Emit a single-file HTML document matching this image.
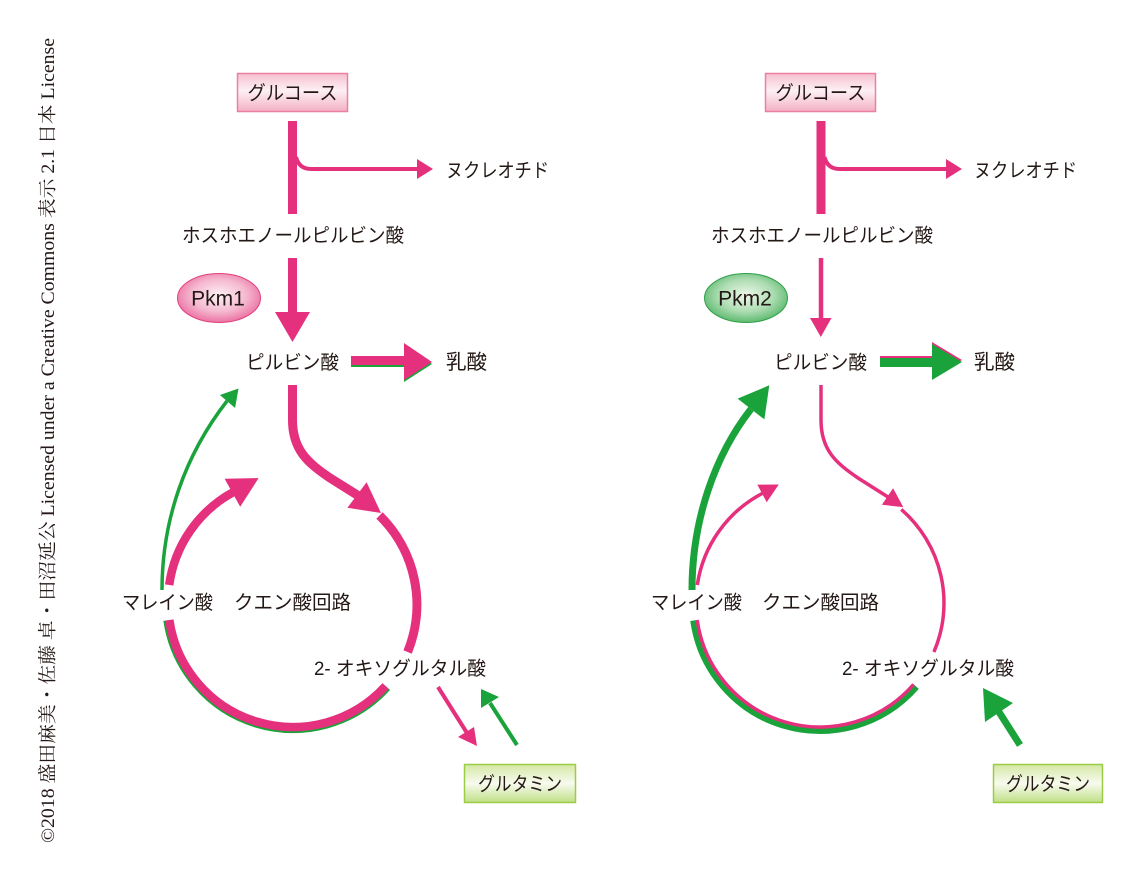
<!DOCTYPE html>
<html><head><meta charset="utf-8">
<style>
html,body{margin:0;padding:0;background:#fff;}
svg{display:block;}
.t{font-family:"Liberation Sans","Noto Sans CJK JP",sans-serif;font-size:19.5px;fill:#231815;}
.v{font-family:"Liberation Serif","Noto Serif CJK SC",serif;font-size:18.5px;fill:#231815;}
</style></head>
<body>
<svg width="1140" height="876" viewBox="0 0 1140 876" xmlns="http://www.w3.org/2000/svg">
<defs>
<linearGradient id="gpink" x1="0" y1="0" x2="0" y2="1">
<stop offset="0" stop-color="#f6bfd0"/><stop offset="0.45" stop-color="#fdf0f4"/><stop offset="1" stop-color="#f4b0c5"/>
</linearGradient>
<linearGradient id="ggreen" x1="0" y1="0" x2="0" y2="1">
<stop offset="0" stop-color="#d3e8a4"/><stop offset="0.5" stop-color="#f8fbef"/><stop offset="1" stop-color="#bfdf86"/>
</linearGradient>
<radialGradient id="rpink" cx="0.5" cy="0.45" r="0.6">
<stop offset="0" stop-color="#fdf2f6"/><stop offset="0.55" stop-color="#f5b8cf"/><stop offset="1" stop-color="#e8629a"/>
</radialGradient>
<radialGradient id="rgreen" cx="0.5" cy="0.45" r="0.6">
<stop offset="0" stop-color="#eff8ec"/><stop offset="0.55" stop-color="#acdcb1"/><stop offset="1" stop-color="#4db262"/>
</radialGradient>
</defs>

<!-- vertical copyright -->
<text class="v" transform="translate(54,843) rotate(-90)" x="0" y="0" textLength="805" lengthAdjust="spacingAndGlyphs">©2018 盛田麻美・佐藤 卓・田沼延公 Licensed under a Creative Commons 表示 2.1 日本 License</text>

<!-- ================= LEFT PANEL ================= -->
<rect x="237.5" y="73.5" width="110" height="38" fill="url(#gpink)" stroke="#ec80a3" stroke-width="1.5"/>
<text class="t" x="292.5" y="99.5" text-anchor="middle" textLength="90" lengthAdjust="spacingAndGlyphs">グルコース</text>

<rect x="288" y="121" width="9" height="93" fill="#e5307d"/>
<path d="M296,157 Q299,169 311,169 L419,169" fill="none" stroke="#e5307d" stroke-width="4"/>
<polygon points="417,159 433,169 417,179" fill="#e5307d"/>
<text class="t" x="446" y="177" textLength="103" lengthAdjust="spacingAndGlyphs">ヌクレオチド</text>

<text class="t" x="182" y="242" textLength="222" lengthAdjust="spacingAndGlyphs">ホスホエノールピルビン酸</text>

<rect x="288" y="258" width="9" height="56" fill="#e5307d"/>
<polygon points="275,312 310,312 292.5,342" fill="#e5307d"/>

<ellipse cx="219" cy="298" rx="41.5" ry="24.5" fill="url(#rpink)" stroke="#e2407c" stroke-width="1"/>
<text x="218" y="305.5" text-anchor="middle" style="font-family:'Liberation Sans',sans-serif;font-size:21px;fill:#231815;">Pkm1</text>

<text class="t" x="246" y="369" textLength="93" lengthAdjust="spacingAndGlyphs">ピルビン酸</text>

<!-- pyruvate -> lactate (left) -->
<rect x="351" y="358" width="55" height="9" fill="#1aa33b"/>
<polygon points="404,345 404,382 432,364" fill="#1aa33b"/>
<rect x="351" y="356" width="55" height="9" fill="#e5307d"/>
<polygon points="404,343 404,380 432,362" fill="#e5307d"/>
<text class="t" x="446" y="369" style="font-size:20.5px">乳酸</text>

<!-- TCA left -->
<path d="M292.5,385 L292.5,420 C292.5,450 308,463 330,478 L358,495.5" fill="none" stroke="#e5307d" stroke-width="9"/>
<polygon points="347.4,507.8 366.6,482.2 381,513" fill="#e5307d"/>
<path d="M379.5,515.5 A125,125 0 0,1 407.6,652" fill="none" stroke="#e5307d" stroke-width="9"/>

<path d="M387.8,688 A128,128 0 0,1 166.3,620.5" fill="none" stroke="#1aa33b" stroke-width="6"/>
<path d="M385.6,686 A125,125 0 0,1 169.3,620" fill="none" stroke="#e5307d" stroke-width="8.5"/>

<path d="M162,590 C162,520 185,455 227,401" fill="none" stroke="#1aa33b" stroke-width="3.5"/>
<polygon points="235.1,408 219.9,395 238.5,388.5" fill="#1aa33b"/>

<path d="M169.2,585 A125,125 0 0,1 233.5,492" fill="none" stroke="#e5307d" stroke-width="8.5"/>
<polygon points="240.2,506.7 224.6,478.7 258.6,478.1" fill="#e5307d"/>

<text class="t" x="122" y="609" textLength="91" lengthAdjust="spacingAndGlyphs">マレイン酸</text>
<text class="t" x="234" y="609" textLength="117" lengthAdjust="spacingAndGlyphs">クエン酸回路</text>
<text class="t" x="314" y="675" textLength="172" lengthAdjust="spacingAndGlyphs">2- オキソグルタル酸</text>

<path d="M438,687 L467,733" fill="none" stroke="#e5307d" stroke-width="4"/>
<polygon points="458,737 474,727 477,746" fill="#e5307d"/>
<path d="M517,745 L490,703" fill="none" stroke="#1aa33b" stroke-width="4"/>
<polygon points="481,708 499,697 481,689" fill="#1aa33b"/>

<rect x="464.5" y="764.5" width="111" height="38" fill="url(#ggreen)" stroke="#9ccc45" stroke-width="1.5"/>
<text class="t" x="520" y="790.5" text-anchor="middle" textLength="84" lengthAdjust="spacingAndGlyphs">グルタミン</text>

<!-- ================= RIGHT PANEL ================= -->
<rect x="765.5" y="73.5" width="110" height="38" fill="url(#gpink)" stroke="#ec80a3" stroke-width="1.5"/>
<text class="t" x="820.5" y="99.5" text-anchor="middle" textLength="90" lengthAdjust="spacingAndGlyphs">グルコース</text>

<rect x="816.5" y="121" width="9" height="93" fill="#e5307d"/>
<path d="M824.5,157 Q827.5,169 839.5,169 L948,169" fill="none" stroke="#e5307d" stroke-width="4"/>
<polygon points="946,159 962,169 946,179" fill="#e5307d"/>
<text class="t" x="974" y="177" textLength="103" lengthAdjust="spacingAndGlyphs">ヌクレオチド</text>

<text class="t" x="711" y="242" textLength="222" lengthAdjust="spacingAndGlyphs">ホスホエノールピルビン酸</text>

<line x1="821" y1="258" x2="821" y2="320" stroke="#e5307d" stroke-width="4.5"/>
<polygon points="810,318 831.5,318 820.8,337" fill="#e5307d"/>

<ellipse cx="746" cy="298" rx="41.5" ry="24.5" fill="url(#rgreen)" stroke="#2f9f48" stroke-width="1"/>
<text x="745" y="305.5" text-anchor="middle" style="font-family:'Liberation Sans',sans-serif;font-size:21px;fill:#231815;">Pkm2</text>

<text class="t" x="774" y="369" textLength="93" lengthAdjust="spacingAndGlyphs">ピルビン酸</text>

<!-- pyruvate -> lactate (right) -->
<rect x="880" y="356" width="53" height="9" fill="#e5307d"/>
<polygon points="932,342 932,378 962,360" fill="#e5307d"/>
<rect x="880" y="358" width="53" height="9" fill="#1aa33b"/>
<polygon points="932,344 932,380 962,362" fill="#1aa33b"/>
<text class="t" x="974" y="369" style="font-size:20.5px">乳酸</text>

<!-- TCA right -->
<path d="M821,385 L821,420 C821,450 836,463 858,478 L888,497" fill="none" stroke="#e5307d" stroke-width="3.5"/>
<polygon points="881.9,504.8 893.1,488.2 903.3,507.1" fill="#e5307d"/>
<path d="M901.3,509.4 A124,124 0 0,1 933.9,652" fill="none" stroke="#e5307d" stroke-width="3.5"/>

<path d="M916.2,686.6 A127.5,127.5 0 0,1 693.7,620.5" fill="none" stroke="#1aa33b" stroke-width="7"/>
<path d="M913.6,684.4 A124,124 0 0,1 697.2,620" fill="none" stroke="#e5307d" stroke-width="3.5"/>

<path d="M692,590 C692,520 715,455 751,409" fill="none" stroke="#1aa33b" stroke-width="7"/>
<polygon points="764.4,419.4 737.6,398.6 769.3,385.3" fill="#1aa33b"/>

<path d="M697.3,585 A124,124 0 0,1 763,493" fill="none" stroke="#e5307d" stroke-width="3.5"/>
<polygon points="766.7,502.2 757.3,484.6 778.8,484.5" fill="#e5307d"/>

<text class="t" x="651" y="609" textLength="91" lengthAdjust="spacingAndGlyphs">マレイン酸</text>
<text class="t" x="762" y="609" textLength="117" lengthAdjust="spacingAndGlyphs">クエン酸回路</text>
<text class="t" x="842" y="675" textLength="172" lengthAdjust="spacingAndGlyphs">2- オキソグルタル酸</text>

<path d="M1020,745 L999,712" fill="none" stroke="#1aa33b" stroke-width="7"/>
<polygon points="985,722 1013,703 983,688" fill="#1aa33b"/>

<rect x="993.5" y="764.5" width="109" height="38" fill="url(#ggreen)" stroke="#9ccc45" stroke-width="1.5"/>
<text class="t" x="1048" y="790.5" text-anchor="middle" textLength="84" lengthAdjust="spacingAndGlyphs">グルタミン</text>
</svg>
</body></html>
